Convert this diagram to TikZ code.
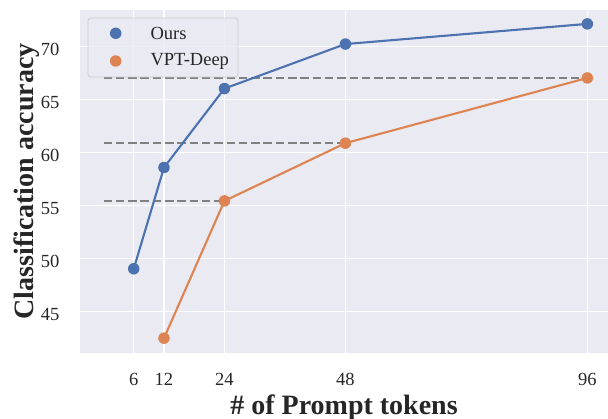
\documentclass[tikz,border=0pt]{standalone}
\usepackage{fontspec}
\setmainfont{Liberation Serif}
\usetikzlibrary{calc,positioning}

\definecolor{sbblue}{HTML}{4C72B0}
\definecolor{sborange}{HTML}{DD8452}
\definecolor{sbface}{HTML}{EAEAF2}
\definecolor{sbtext}{HTML}{262626}
\definecolor{sbedge}{HTML}{CCCCCC}

\tikzset{
  gridline/.style={white,line width=1.3pt},
  refline/.style={gray,line width=2.3pt,dash pattern=on 8.5pt off 3.8pt},
  curve/.style={line width=2.1pt,line join=round},
  dot/.style={circle,inner sep=0pt,minimum size=11.5pt,fill=#1},
  ticklabel/.style={font=\fontsize{18.5}{20}\selectfont,text=sbtext},
  axislabel/.style={font=\fontsize{28}{30}\selectfont\bfseries,text=sbtext},
}

\begin{document}
\begin{tikzpicture}[x=1pt,y=1pt]
\useasboundingbox (0,0) rectangle (608,419);

% axes face
\fill[sbface] (80,66) rectangle (608,409);

% data frame: x in tokens, y in accuracy
\begin{scope}[shift={(103.5,-369.7)},x=5.04pt,y=10.6pt]
  \begin{scope}
    \clip (-4.66,41.1) rectangle (100.1,73.46);
    \foreach \t in {6,12,24,48,96}
      \draw[gridline] (\t,41.1) -- (\t,73.46);
    \foreach \v in {45,50,...,70}
      \draw[gridline] (-4.66,\v) -- (100.1,\v);
  \end{scope}

  % tick labels
  \foreach \t in {6,12,24,48,96}
    \node[ticklabel,anchor=base,yshift=-32pt] (xt\t) at (\t,41.1) {\t};
  \foreach \v in {45,50,...,70}
    \node[ticklabel,anchor=east,xshift=-17pt,yshift=-2.5pt] (yt\v) at (-4.66,\v) {\v};

  % points
  \coordinate (o6)  at (6,49.05);
  \coordinate (o12) at (12,58.6);
  \coordinate (o24) at (24,66.05);
  \coordinate (o48) at (48,70.25);
  \coordinate (o96) at (96,72.15);
  \coordinate (v12) at (12,42.5);
  \coordinate (v24) at (24,55.45);
  \coordinate (v48) at (48,60.9);
  \coordinate (v96) at (96,67.05);

  \coordinate (r1) at (0,67.05);
  \coordinate (r2) at (0,60.9);
  \coordinate (r3) at (0,55.45);

  % reference levels
  \draw[refline] (r1) -- (v96);
  \draw[refline] (r2) -- (v48);
  \draw[refline] (r3) -- (v24);

  % curves
  \draw[curve,sbblue] (o6) -- (o12) -- (o24) -- (o48) -- (o96);
  \draw[curve,sborange] (v12) -- (v24) -- (v48) -- (v96);
  \foreach \p in {o6,o12,o24,o48,o96}
    \node[dot=sbblue] at (\p) {};
  \foreach \p in {v12,v24,v48,v96}
    \node[dot=sborange] at (\p) {};
\end{scope}

% legend
\draw[sbedge,line width=0.8pt,fill=sbface,fill opacity=0.8,rounded corners=3pt]
  (88,342) rectangle (238,401);
\node[dot=sbblue] (lo) at (115.7,385.7) {};
\node[dot=sborange] (lv) at (115.7,358) {};
\node[ticklabel,anchor=west] (lotext) at (147,385.7) {Ours};
\node[ticklabel,anchor=west] (lvtext) at (147,358) {VPT-Deep};

% axis labels
\node[axislabel,anchor=base] (xlab) at (344,4) {\# of Prompt tokens};
\node[axislabel,anchor=base,rotate=90] (ylab) at (33,237.5) {Classification accuracy};
\end{tikzpicture}
\end{document}
